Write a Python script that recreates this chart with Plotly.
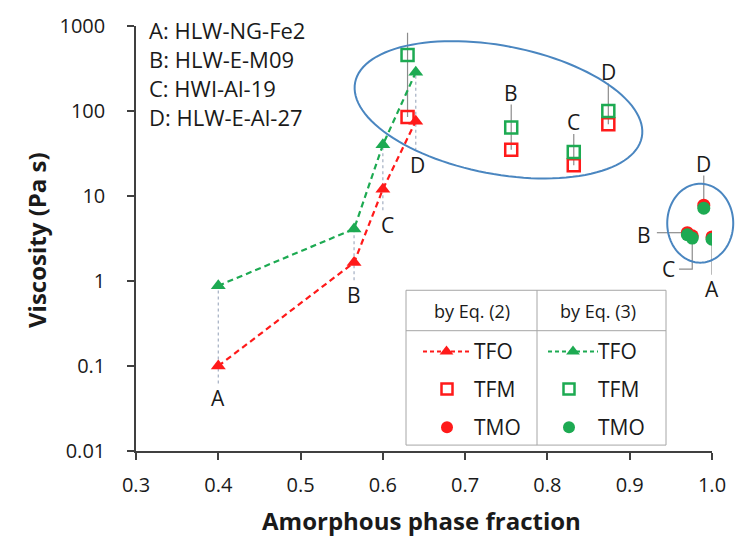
import numpy as np
import plotly.graph_objects as go

# ---------------------------------------------------------------- data
samples = ["A", "B", "C", "D"]
sample_names = ["HLW-NG-Fe2", "HLW-E-M09", "HWI-Al-19", "HLW-E-Al-27"]

# TFO: viscosity vs amorphous fraction, by Eq. (2) and Eq. (3)
tfo_fraction = [0.40, 0.565, 0.60, 0.64]
tfo_eq2 = [0.10, 1.65, 12.0, 76.0]
tfo_eq3 = [0.88, 4.1, 40.0, 285.0]

# TFM
tfm_fraction = [0.63, 0.756, 0.832, 0.874]
tfm_eq2 = [85.0, 35.0, 23.0, 70.0]
tfm_eq3 = [455.0, 64.0, 33.0, 100.0]

# TMO
tmo_fraction = [1.0, 0.970, 0.976, 0.99]
tmo_eq2 = [3.3, 3.7, 3.4, 7.8]
tmo_eq3 = [3.1, 3.5, 3.2, 7.2]

x_ticks = [0.3, 0.4, 0.5, 0.6, 0.7, 0.8, 0.9, 1.0]
x_tick_labels = ["0.3", "0.4", "0.5", "0.6", "0.7", "0.8", "0.9", "1.0"]
y_ticks = [0.01, 0.1, 1, 10, 100, 1000]
y_tick_labels = ["0.01", "0.1", "1", "10", "100", "1000"]

# ---------------------------------------------------------------- style
RED = "#FF1A1A"
GREEN = "#1DAA52"
GREY_DASH = "#A3AFC2"
GREY_LEAD = "#8C8C8C"
AXIS = "#404040"
TXT = "#1A1A1A"
ELL = "#4A86C0"
FONT = "Open Sans"

W, H = 746, 537
ML, MR, MT, MB = 136, 34, 20, 86
PW, PH = W - ML - MR, H - MT - MB
X0, X1 = 0.3, 1.0
Y0, Y1 = -2.0, 3.0

# label placement (value-axis units) for the sample letters
tfo_label_y = [0.042, 0.69, 4.6, 23.0]
tfo_label_x = [0.40, 0.565, 0.606, 0.642]
tfm_label_y = [1150.0, 165.0, 74.0, 290.0]
tmo_label_pos = [(1.0, 0.80), (0.917, 3.5), (0.947, 1.38), (0.99, 24.0)]

fig = go.Figure()


def seg(xs, ys, color, dash=None, width=1.2):
    fig.add_trace(go.Scatter(x=xs, y=ys, mode="lines", hoverinfo="skip",
                             showlegend=False,
                             line=dict(color=color, width=width, dash=dash)))


# grey connectors between Eq. (2) and Eq. (3) TFO points, down to the letter
for i in range(4):
    hi = max(tfo_eq2[i], tfo_eq3[i])
    bottom = 10 ** (np.log10(tfo_label_y[i]) + 0.17)
    seg([tfo_fraction[i], tfo_fraction[i]], [bottom, hi], GREY_DASH, "3px,3px")

# leaders for TFM letters (above the squares)
for i in range(4):
    top = 10 ** (np.log10(tfm_label_y[i]) - 0.14)
    seg([tfm_fraction[i], tfm_fraction[i]], [top, min(tfm_eq2[i], tfm_eq3[i])],
        GREY_LEAD)

# leaders for TMO letters
a_lx, a_ly = tmo_label_pos[0]
seg([tmo_fraction[0], tmo_fraction[0]], [10 ** (np.log10(a_ly) + 0.17), tmo_eq3[0]], GREY_LEAD)
b_lx, b_ly = tmo_label_pos[1]
seg([b_lx + 0.016, tmo_fraction[1]], [tmo_eq2[1], tmo_eq2[1]], GREY_LEAD)
c_lx, c_ly = tmo_label_pos[2]
seg([c_lx + 0.013, tmo_fraction[2], tmo_fraction[2]], [c_ly, c_ly, tmo_eq3[2]], GREY_LEAD)
d_lx, d_ly = tmo_label_pos[3]
seg([tmo_fraction[3], tmo_fraction[3]], [10 ** (np.log10(d_ly) - 0.14), tmo_eq2[3]], GREY_LEAD)

# TFO series
for vals, col in ((tfo_eq3, GREEN), (tfo_eq2, RED)):
    fig.add_trace(go.Scatter(
        x=tfo_fraction, y=vals, mode="lines+markers", showlegend=False,
        line=dict(color=col, width=2.2, dash="6px,4px"),
        marker=dict(symbol="triangle-up", size=13, color=col)))

# TFM series
for vals, col in ((tfm_eq2, RED), (tfm_eq3, GREEN)):
    fig.add_trace(go.Scatter(
        x=tfm_fraction, y=vals, mode="markers", showlegend=False,
        marker=dict(symbol="square-open", size=12, color=col,
                    line=dict(color=col, width=2.5))))

# TMO series
for vals, col in ((tmo_eq2, RED), (tmo_eq3, GREEN)):
    fig.add_trace(go.Scatter(
        x=tmo_fraction, y=vals, mode="markers", showlegend=False,
        marker=dict(symbol="circle", size=13, color=col)))

annotations = []

# sample letters
for i in range(4):
    annotations.append(dict(x=tfo_label_x[i], y=np.log10(tfo_label_y[i]),
                            text=samples[i], showarrow=False))
    annotations.append(dict(x=tfm_fraction[i], y=np.log10(tfm_label_y[i]),
                            text=samples[i], showarrow=False))
    lx, ly = tmo_label_pos[i]
    annotations.append(dict(x=lx, y=np.log10(ly), text=samples[i], showarrow=False))
for a in annotations:
    a.update(xref="x", yref="y", xanchor="center", yanchor="middle",
             font=dict(size=21, color=TXT, family=FONT))


def px(xp):
    return (xp - ML) / PW


def py(yp):
    return (MT + PH - yp) / PH


# sample key, top left
for i, (s, n) in enumerate(zip(samples, sample_names)):
    annotations.append(dict(
        x=px(147), y=py(24 + i * 29.3), xref="paper", yref="paper",
        xanchor="left", yanchor="middle", showarrow=False, text=f"{s}: {n}",
        font=dict(size=22, color=TXT, family=FONT)))

# axis titles
annotations.append(dict(
    x=px(421), y=py(521), xref="paper", yref="paper",
    xanchor="center", yanchor="middle",
    showarrow=False, text="<b>Amorphous phase fraction</b>",
    font=dict(size=24, color=TXT, family=FONT)))
annotations.append(dict(
    x=px(37), y=py(237), xref="paper", yref="paper",
    xanchor="center", yanchor="middle",
    showarrow=False, textangle=-90, text="<b>Viscosity (Pa s)</b>",
    font=dict(size=24, color=TXT, family=FONT)))

shapes = []


def ellipse(cx, cy_log, a, b, ang):
    cxp = (cx - X0) / (X1 - X0) * PW
    cyp = (cy_log - Y0) / (Y1 - Y0) * PH
    t = np.linspace(0, 2 * np.pi, 121)
    th = np.radians(ang)
    xs = cxp + a * np.cos(t) * np.cos(th) - b * np.sin(t) * np.sin(th)
    ys = cyp + a * np.cos(t) * np.sin(th) + b * np.sin(t) * np.cos(th)
    path = "M " + " L ".join(f"{x / PW:.5f},{y / PH:.5f}" for x, y in zip(xs, ys)) + " Z"
    shapes.append(dict(type="path", path=path, xref="paper", yref="paper",
                       line=dict(color=ELL, width=2)))


ellipse(0.7405, 2.014, 146, 65, -11)
ellipse(0.9857, 0.680, 33, 40, 0)

# legend table
LB = dict(color="#A6A6A6", width=1)
shapes.append(dict(type="rect", xref="paper", yref="paper", x0=px(406), x1=px(666),
                   y0=py(445), y1=py(288), line=LB, fillcolor="white", layer="below"))
shapes.append(dict(type="line", xref="paper", yref="paper", x0=px(406), x1=px(666),
                   y0=py(329), y1=py(329), line=LB))
shapes.append(dict(type="line", xref="paper", yref="paper", x0=px(537), x1=px(537),
                   y0=py(445), y1=py(288), line=LB))

for txt, xc in (("by Eq. (2)", 472), ("by Eq. (3)", 598)):
    annotations.append(dict(x=px(xc), y=py(309), xref="paper", yref="paper",
                            xanchor="center", yanchor="middle",
                            showarrow=False, text=txt,
                            font=dict(size=18, color=TXT, family=FONT)))

rows = [("TFO", 350), ("TFM", 388), ("TMO", 427)]
cols = [(RED, 423, 470, 447, 472), (GREEN, 548, 598, 569, 596)]
for col, lx0, lx1, gx, tx in cols:
    fig.add_trace(go.Scatter(x=[px(lx0), px(lx1)], y=[py(350)] * 2, mode="lines",
                             xaxis="x2", yaxis="y2", showlegend=False, hoverinfo="skip",
                             line=dict(color=col, width=2, dash="4px,3px")))
    fig.add_trace(go.Scatter(x=[px((lx0 + lx1) / 2)], y=[py(350)], mode="markers",
                             xaxis="x2", yaxis="y2", showlegend=False, hoverinfo="skip",
                             marker=dict(symbol="triangle-up", size=12, color=col)))
    fig.add_trace(go.Scatter(x=[px(gx)], y=[py(388)], mode="markers",
                             xaxis="x2", yaxis="y2", showlegend=False, hoverinfo="skip",
                             marker=dict(symbol="square-open", size=11, color=col,
                                         line=dict(color=col, width=2.5))))
    fig.add_trace(go.Scatter(x=[px(gx)], y=[py(427)], mode="markers",
                             xaxis="x2", yaxis="y2", showlegend=False, hoverinfo="skip",
                             marker=dict(symbol="circle", size=12, color=col)))
    for name, yr in rows:
        annotations.append(dict(x=px(tx), y=py(yr), xref="paper", yref="paper",
                                xanchor="left", yanchor="middle", showarrow=False,
                                text=name, font=dict(size=21, color=TXT, family=FONT)))

axis_common = dict(showline=True, linecolor=AXIS, linewidth=1.5, ticks="outside",
                   ticklen=7, tickwidth=1.5, tickcolor=AXIS, showgrid=False,
                   zeroline=False, mirror=False,
                   tickfont=dict(size=20, color=TXT, family=FONT))

fig.update_layout(
    width=W, height=H, margin=dict(l=ML, r=MR, t=MT, b=MB),
    paper_bgcolor="white", plot_bgcolor="white", showlegend=False,
    xaxis=dict(range=[X0, X1], tickvals=x_ticks, ticktext=x_tick_labels,
               ticklabelstandoff=8, **axis_common),
    yaxis=dict(type="log", range=[Y0, Y1], tickvals=y_ticks, ticktext=y_tick_labels,
               ticklabelstandoff=18, **axis_common),
    xaxis2=dict(overlaying="x", range=[0, 1], visible=False),
    yaxis2=dict(overlaying="y", range=[0, 1], visible=False),
    shapes=shapes, annotations=annotations,
)

fig.write_html("out.html")
